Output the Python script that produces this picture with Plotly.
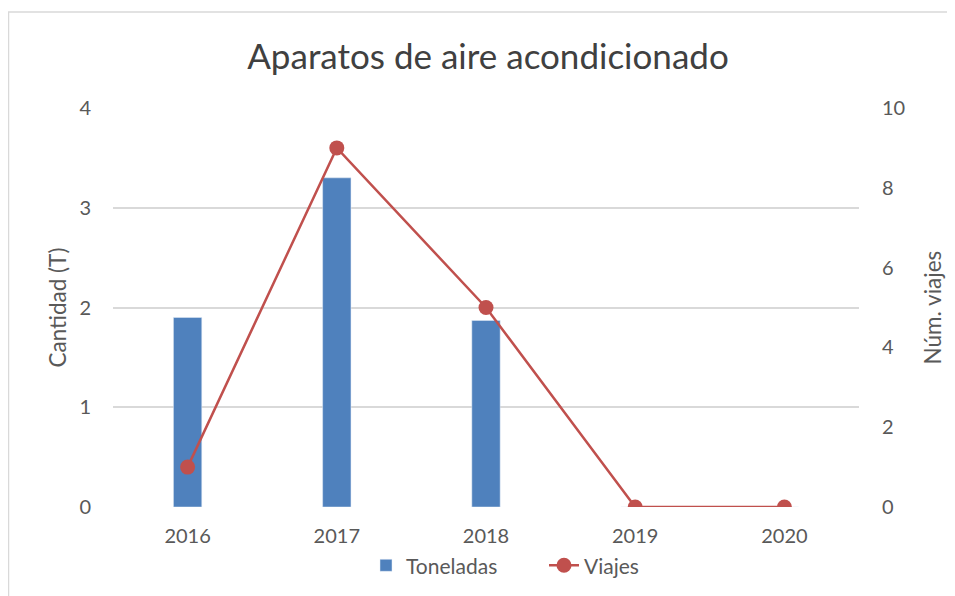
import plotly.graph_objects as go

years = ["2016", "2017", "2018", "2019", "2020"]
toneladas = [1.9, 3.3, 1.87, 0, 0]
viajes = [1, 9, 5, 0, 0]

FONT = "Lato"
TXT = "#595959"

W, H = 947, 588
L, R, T, B = 105, 96, 100, 89
PW = W - L - R
PH = H - T - B

fig = go.Figure()
fig.add_trace(go.Bar(x=years, y=toneladas, name="Toneladas", marker_color="#4f81bd",
                     width=0.19, yaxis="y"))
fig.add_trace(go.Scatter(x=years, y=viajes, name="Viajes", mode="lines+markers",
                         line=dict(color="#c0504d", width=2.5),
                         marker=dict(color="#c0504d", size=15), yaxis="y2"))

fig.update_layout(
    width=W, height=H,
    margin=dict(l=L, r=R, t=T, b=B, autoexpand=False),
    paper_bgcolor="white", plot_bgcolor="white",
    font=dict(family=FONT, color=TXT, size=20),
    title=dict(text="Aparatos de aire acondicionado", x=480 / W, xanchor="center",
               y=1 - 49 / H, yanchor="middle", yref="container",
               font=dict(size=35, color="#404040", family=FONT)),
    xaxis=dict(showgrid=False, showline=False, ticks="", tickfont=dict(size=20, color=TXT),
               ticklabelstandoff=15),
    yaxis=dict(range=[0, 4], dtick=1, showgrid=True, gridcolor="#d9d9d9", gridwidth=1.5,
               zeroline=False, showline=False, ticks="", tickfont=dict(size=20, color=TXT),
               ticklabelstandoff=21),
    yaxis2=dict(range=[0, 10], dtick=2, overlaying="y", side="right", showgrid=False,
                zeroline=False, showline=False, ticks="", tickfont=dict(size=20, color=TXT),
                ticklabelstandoff=22),
    legend=dict(orientation="h", x=(536 - L) / PW, xanchor="center", y=-0.147,
                yanchor="middle", font=dict(size=21, color=TXT), bgcolor="rgba(0,0,0,0)",
                entrywidth=133, entrywidthmode="pixels"),
    showlegend=True,
    shapes=[dict(type="rect", xref="paper", yref="paper", x0=(0.5 - L) / PW, x1=1.3,
                 y0=-0.4, y1=(H - B - 4) / PH, line=dict(color="#d9d9d9", width=1.5),
                 fillcolor="rgba(0,0,0,0)", layer="below")],
    annotations=[
        dict(text="Cantidad (T)", xref="paper", yref="paper", x=(49 - L) / PW, y=0.5,
             textangle=-90, showarrow=False, xanchor="center", yanchor="middle",
             font=dict(size=22.5, color=TXT)),
        dict(text="Núm. viajes", xref="paper", yref="paper", x=(924 - L) / PW, y=0.5,
             textangle=-90, showarrow=False, xanchor="center", yanchor="middle",
             font=dict(size=22.5, color=TXT)),
    ],
)

fig.write_html("out.html")
